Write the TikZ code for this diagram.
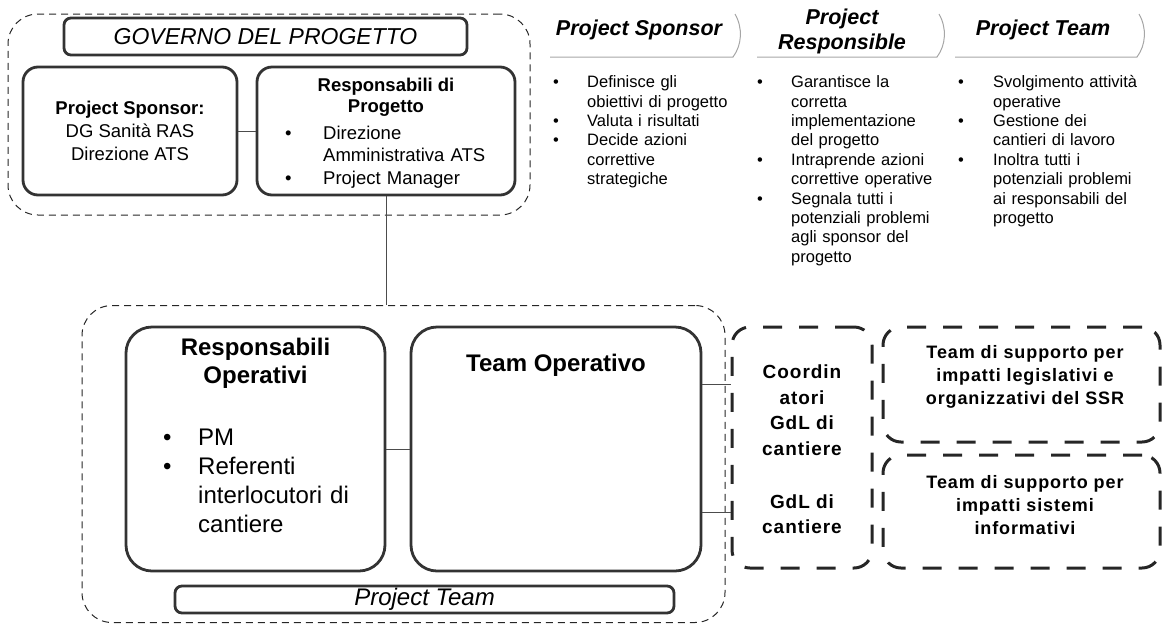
\documentclass[tikz,border=0pt]{standalone}
\usepackage{fontspec}
\setmainfont{Liberation Sans}
\newfontfamily\spacedfont[LetterSpace=5]{Liberation Sans}
\usetikzlibrary{positioning}

% voce di elenco puntato con rientro sospeso
\newcommand{\itm}[2]{\par\noindent\hangindent=#1\hangafter=1\makebox[#1][l]{\textbullet}#2}

\tikzset{
  groupbox/.style={draw=black!85, dash pattern=on 7pt off 5pt, line width=1pt, rounded corners=30pt, inner sep=0pt},
  solidbox/.style={draw=black!80, line width=2.8pt, rounded corners=15pt, inner sep=0pt},
  titlebox/.style={solidbox, rounded corners=7pt},
  supportbox/.style={draw=black!85, line width=3pt, dash pattern=on 19pt off 17pt, rounded corners=18pt, inner sep=0pt},
  link/.style={draw=black!70, line width=0.8pt},
  headline/.style={draw=black!35, line width=1pt},
  head/.style={inner sep=0pt, align=center, font=\bfseries\itshape\fontsize{21.5}{25}\selectfont},
  lbl/.style={inner sep=0pt, align=center},
  blist/.style={inner sep=0pt, anchor=north west},
}

\begin{document}
\begin{tikzpicture}[x=1pt,y=-1pt]
	\useasboundingbox (0,0) rectangle (1162,625);
	% governo del progetto
	\node[groupbox, minimum width=522pt, minimum height=201pt] (gov) at (269,114.5) {};
	\node[titlebox, minimum width=403pt, minimum height=37pt, font=\itshape\fontsize{23}{27}\selectfont] (govtitle) at (265.5,36.5) {GOVERNO DEL PROGETTO};
	\node[solidbox, minimum width=214pt, minimum height=128pt, align=center, font=\fontsize{18.5}{23}\selectfont] (sponsor) at (130,131) {\textbf{Project Sponsor:}\\DG Sanità RAS\\Direzione ATS};
	\node[solidbox, minimum width=258pt, minimum height=128pt] (resp) at (386,131) {};
	\node[lbl, font=\bfseries\fontsize{18.5}{21.5}\selectfont] (resptitle) at (386,97.5) {Responsabili di\\Progetto};
	\node[blist, text width=215pt, font=\fontsize{18.5}{22.5}\selectfont] (resplist) at (285,116.5)
	{\itm{38pt}{Direzione\newline Amministrativa ATS}\itm{38pt}{Project Manager}\par};
	\draw[link] (sponsor.east) -- (resp.west);
	% ruoli
	\foreach \a/\b in {550/733,757/937,955/1137}
	\draw[headline] (\a,57) -- (\b,57) .. controls (\b+9,45) and (\b+10,28) .. (\b+2,14);
	\node[head] (hsponsor) at (639,30) {Project Sponsor};
	\node[head] (hresp) at (842,31.5) {Project\\Responsible};
	\node[head] (hteam) at (1043,30) {Project Team};
	\node[blist, text width=185pt, font=\fontsize{16.5}{19.4}\selectfont] (lsponsor) at (553,68)
	{\itm{34pt}{Definisce gli\newline obiettivi di progetto}\itm{34pt}{Valuta i risultati}\itm{34pt}{Decide azioni\newline correttive\newline strategiche}\par};
	\node[blist, text width=185pt, font=\fontsize{16.5}{19.4}\selectfont] (lresp) at (757,68)
	{\itm{34pt}{Garantisce la\newline corretta\newline implementazione\newline del progetto}\itm{34pt}{Intraprende azioni\newline correttive operative}\itm{34pt}{Segnala tutti i\newline potenziali problemi\newline agli sponsor del\newline progetto}\par};
	\node[blist, text width=185pt, font=\fontsize{16.5}{19.4}\selectfont] (lteam) at (958,68)
	{\itm{35pt}{Svolgimento attività\newline operative}\itm{35pt}{Gestione dei\newline cantieri di lavoro}\itm{35pt}{Inoltra tutti i\newline potenziali problemi\newline ai responsabili del\newline progetto}\par};
	% project team
	\node[groupbox, minimum width=643pt, minimum height=317pt] (team) at (403.5,464) {};
	\node[solidbox, rounded corners=26pt, minimum width=259pt, minimum height=244pt] (respop) at (255.5,449) {};
	\node[lbl, font=\bfseries\fontsize{24}{28}\selectfont] (roptitle) at (255.5,363) {Responsabili\\Operativi};
	\node[blist, text width=200pt, font=\fontsize{24}{29}\selectfont] (roplist) at (163,416.5)
	{\itm{35pt}{PM}\itm{35pt}{Referenti\newline interlocutori di\newline cantiere}\par};
	\node[solidbox, rounded corners=26pt, minimum width=290pt, minimum height=244pt] (teamop) at (556,449) {};
	\node[lbl, font=\bfseries\fontsize{24}{28}\selectfont] (toptitle) at (556,365) {Team Operativo};
	\node[titlebox, minimum width=499pt, minimum height=27pt, font=\itshape\fontsize{24}{28}\selectfont] (ptitle) at (424.5,599.5) {Project Team};
	% cantieri e supporto
	\node[supportbox, minimum width=140pt, minimum height=241pt] (coord) at (802,447.5) {};
	\node[lbl, font=\spacedfont\bfseries\fontsize{19}{25.5}\selectfont] (coordtxt) at (802,410) {Coordin\\atori\\GdL di\\cantiere};
	\node[lbl, font=\spacedfont\bfseries\fontsize{19}{25.5}\selectfont] (gdltxt) at (802,514) {GdL di\\cantiere};
	\node[supportbox, minimum width=277pt, minimum height=115pt] (supleg) at (1021.5,384.5) {};
	\node[lbl, font=\spacedfont\bfseries\fontsize{18}{23}\selectfont] (supleglbl) at (1025,377) {Team di supporto per\\impatti legislativi e\\organizzativi del SSR};
	\node[supportbox, minimum width=277pt, minimum height=113pt] (supsi) at (1021.5,511.5) {};
	\node[lbl, font=\spacedfont\bfseries\fontsize{18}{23}\selectfont] (supsilbl) at (1025,505) {Team di supporto per\\impatti sistemi\\informativi};
	% collegamenti
	\draw[link] (resp.south) -- (resp.south |- team.north);
	\draw[link] (respop.east) -- (teamop.west);
	\draw[link] ([yshift=65pt]teamop.east) -- ([yshift=65pt]teamop.east -| coord.west);
	\draw[link] ([yshift=-63pt]teamop.east) -- ([yshift=-63pt]teamop.east -| coord.west);
\end{tikzpicture}
\end{document}
